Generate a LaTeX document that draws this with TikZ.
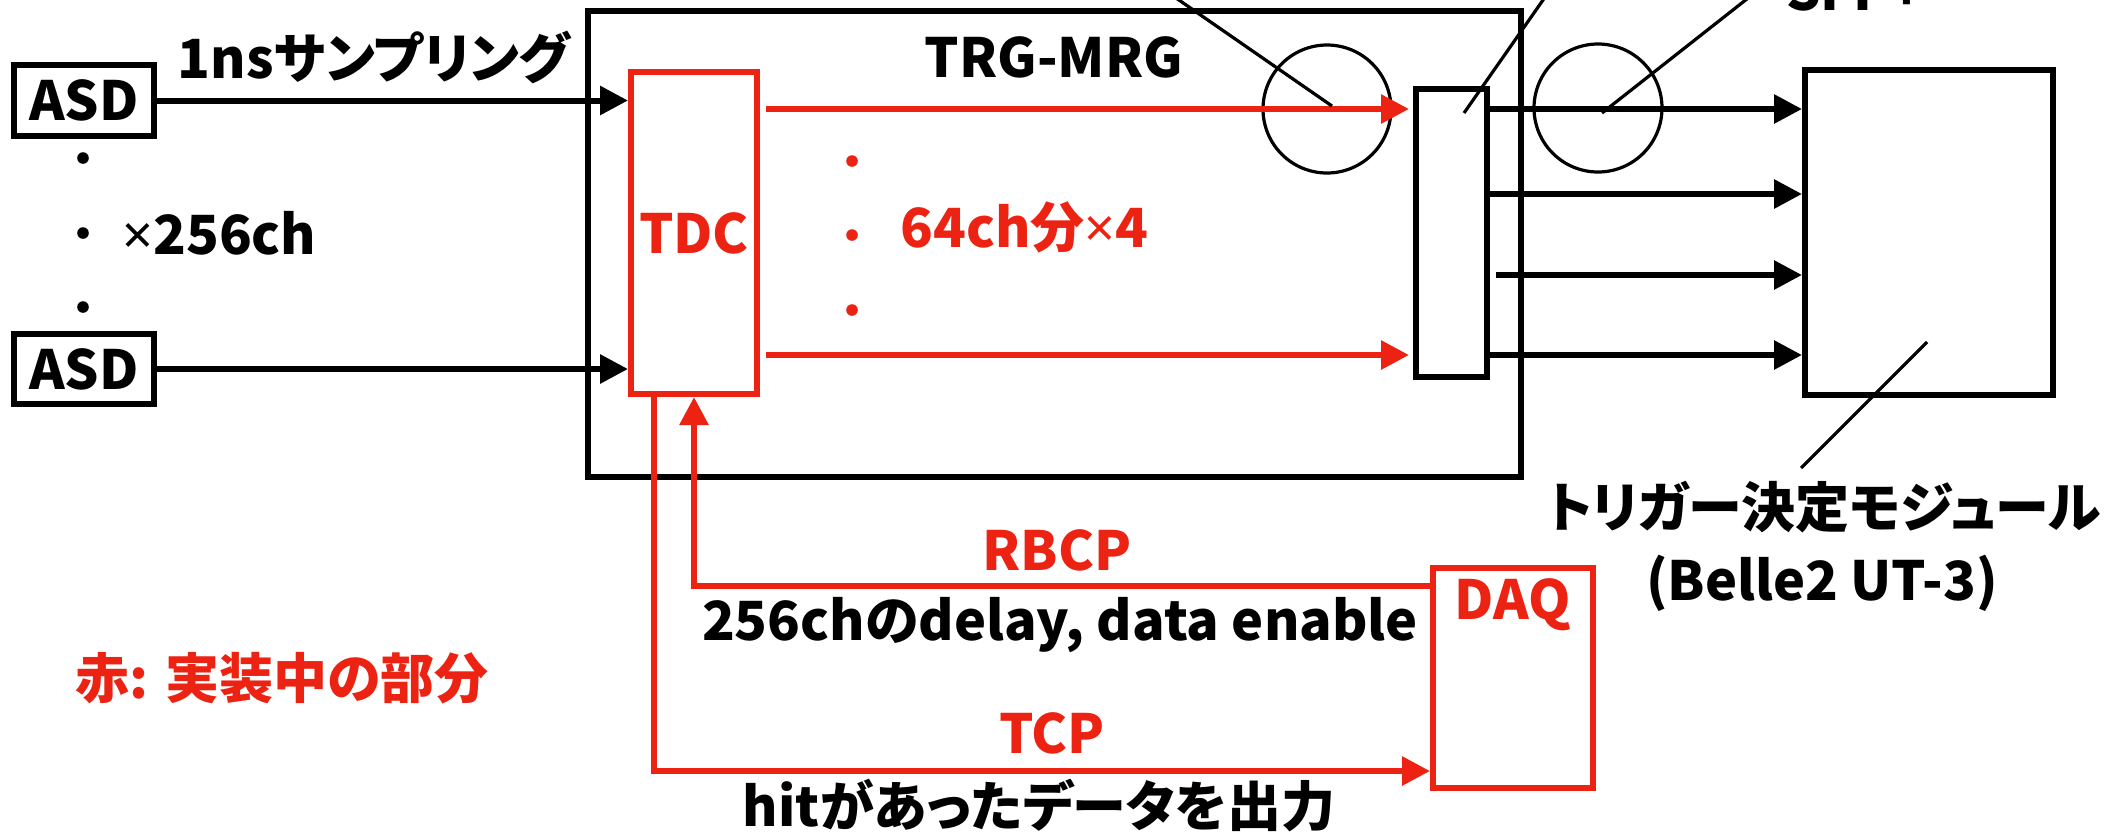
\documentclass[tikz,border=0pt]{standalone}
\usepackage{fontspec}
\setmainfont{Noto Sans CJK JP}[CharacterWidth=AlternateProportional]
\newfontfamily\latinsans{Noto Sans}
\newcommand{\bytimes}{{\latinsans ×}}
\usetikzlibrary{arrows.meta, positioning, calc}
\definecolor{mred}{RGB}{236,34,18}

\begin{document}
\begin{tikzpicture}[
  x=0.5pt, y=-0.5pt,
  font=\bfseries\fontsize{27pt}{30pt}\selectfont,
  box/.style={rectangle, draw, line width=3pt, inner sep=0pt},
  redbox/.style={box, draw=mred, text=mred},
  ring/.style={circle, draw, line width=1.6pt, minimum size=64pt, inner sep=0pt},
  dot/.style={circle, fill, minimum size=5.8pt, inner sep=0pt},
  txt/.style={inner sep=0pt},
  arrow/.style={line width=3pt, -{Triangle[length=14pt, width=14pt]}},
  redarrow/.style={arrow, mred},
  pointer/.style={line width=1.6pt}
]
\useasboundingbox (0,0) rectangle (2109,832);

% Nodes
\node[box, minimum width=466.5pt, minimum height=233pt] (mrg) at (1054.5,244) {};
\node[box, minimum width=70pt, minimum height=35.5pt] (asdA) at (84,100.5) {ASD};
\node[box, minimum width=70pt, minimum height=35pt] (asdB) at (84,369) {ASD};
\node[redbox, minimum width=63pt, minimum height=161pt] (tdc) at (694,233) {TDC};
\node[box, minimum width=35.5pt, minimum height=144pt] (merger) at (1451.5,233) {};
\node[box, minimum width=124pt, minimum height=162.5pt] (trig) at (1929,232.5) {};
\node[redbox, minimum width=80pt, minimum height=110pt] (daq) at (1513,678) {};
\node[ring] (ringA) at (1327,109) {};
\node[ring] (ringB) at (1598,108) {};

% Texts
\node[txt] (samp) at (374,57) {1nsサンプリング};
\node[txt, anchor=west] (nch) at (122,233) {\bytimes 256ch};
\node[txt] (mrgname) at (1054,57) {TRG-MRG};
\node[txt, mred, anchor=west] (split) at (900,227) {64ch分\bytimes 4};
\node[txt, anchor=base west] (sfp) at (1786,10) {SFP+};
\node[txt] (trigname) at (1824,507) {トリガー決定モジュール};
\node[txt] (trigtype) at (1822,583) {(Belle2 UT-3)};
\node[txt, mred] (daqname) at (1513,605) {DAQ};
\node[txt, mred] (rbcp) at (1057,550) {RBCP};
\node[txt] (rbcpnote) at (1060,625) {256chのdelay, data enable};
\node[txt, mred] (tcp) at (1052,733) {TCP};
\node[txt] (tcpnote) at (1039,806) {hitがあったデータを出力};
\node[txt, mred] (legend) at (282,678) {赤: 実装中の部分};

% Dots
\foreach \y [count=\i] in {158,233,307}
  \node[dot] (bdot\i) at (83,\y) {};
\foreach \y [count=\i] in {161,235,310}
  \node[dot, mred] (rdot\i) at (852,\y) {};

% Arrows into TDC
\draw[arrow] (asdA.east) -- (asdA.east -| tdc.west);
\draw[arrow] (asdB.east) -- (asdB.east -| tdc.west);

% TDC to merger
\coordinate (lowrow) at (0,355);
\draw[redarrow] ([xshift=3pt]tdc.east |- ringA) -- ([xshift=-2pt]merger.west |- ringA);
\draw[redarrow] ([xshift=3pt]tdc.east |- lowrow) -- ([xshift=-2pt]merger.west |- lowrow);

% merger to trigger module
\foreach \y/\gap in {109/0,194/0,275/3,355/0}
  \draw[arrow] ([xshift=\gap pt]merger.east |- 0,\y) -- (trig.west |- 0,\y);

% RBCP / TCP
\draw[redarrow] (daq.west |- 0,586) -| (tdc.south);
\draw[redarrow] (tdc.south -| 654,0) |- (daq.west |- 0,771);

% Pointer lines
\coordinate (pAend) at (1150,-20);
\coordinate (pBtip) at (1464,113);
\coordinate (pBend) at (1557,-20);
\coordinate (pCtip) at (1602,113);
\coordinate (pCend) at (1771,-20);
\coordinate (pDtip) at (1927,342);
\coordinate (pDend) at (1801,468);
\draw[pointer] ([shift={(5,-3)}]ringA.center) -- (pAend);
\draw[pointer] (pBtip) -- (pBend);
\draw[pointer] (pCtip) -- (pCend);
\draw[pointer] (pDtip) -- (pDend);

\end{tikzpicture}
\end{document}
